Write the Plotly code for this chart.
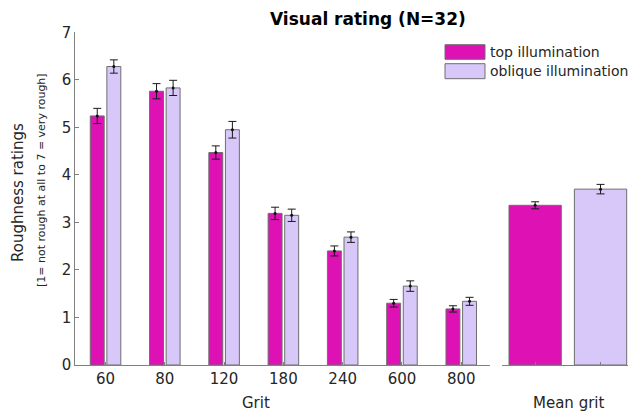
import plotly.graph_objects as go

# Roughness ratings per grit, two illumination conditions (mean ± SEM)
grits = ["60", "80", "120", "180", "240", "600", "800"]
top_mean = [5.24, 5.76, 4.47, 3.19, 2.40, 1.30, 1.18]
top_err = [0.16, 0.16, 0.14, 0.13, 0.105, 0.08, 0.066]
oblique_mean = [6.28, 5.83, 4.95, 3.15, 2.69, 1.66, 1.34]
oblique_err = [0.14, 0.16, 0.175, 0.13, 0.11, 0.11, 0.084]

# Average over all grits
grand_labels = ["top", "oblique"]
grand_mean = [3.36, 3.70]
grand_err = [0.074, 0.10]

series_names = ["top illumination", "oblique illumination"]
colors = ["#DD11B4", "#D8C8FA"]
edge = "#6E6E6E"
txt = "#262626"
axis_grey = "#808080"
FONT = "DejaVu Sans"

W, H = 629, 412
bar_w = 0.235
shift = 0.14

fig = go.Figure()

pos = list(range(len(grits)))
for k, (means, errs) in enumerate([(top_mean, top_err), (oblique_mean, oblique_err)]):
    xs = [p + (-shift if k == 0 else shift) for p in pos]
    fig.add_trace(go.Bar(
        x=xs, y=means, width=bar_w, name=series_names[k],
        marker=dict(color=colors[k], line=dict(color=edge, width=1)),
        error_y=dict(type="data", array=errs, color="#1a1a1a", thickness=1, width=4),
        xaxis="x", yaxis="y", showlegend=False,
    ))
    fig.add_trace(go.Scatter(
        x=xs, y=means, mode="markers",
        marker=dict(color="#111111", size=3),
        xaxis="x", yaxis="y", showlegend=False, hoverinfo="skip",
    ))

# Mean-over-grit panel
gpos = [0, 1]
for k in range(2):
    fig.add_trace(go.Bar(
        x=[gpos[k]], y=[grand_mean[k]], width=0.8, name=series_names[k],
        marker=dict(color=colors[k], line=dict(color=edge, width=1)),
        error_y=dict(type="data", array=[grand_err[k]], color="#1a1a1a", thickness=1, width=4),
        xaxis="x2", yaxis="y2", showlegend=False,
    ))
    fig.add_trace(go.Scatter(
        x=[gpos[k]], y=[grand_mean[k]], mode="markers",
        marker=dict(color="#111111", size=3),
        xaxis="x2", yaxis="y2", showlegend=False, hoverinfo="skip",
    ))

ydom = [(H - 365) / H, (H - 32.3) / H]

fig.update_layout(
    width=W, height=H,
    margin=dict(l=0, r=0, t=0, b=0, pad=0, autoexpand=False),
    paper_bgcolor="white", plot_bgcolor="white",
    font=dict(family=FONT, color=txt, size=15),
    barmode="overlay",
    xaxis=dict(
        domain=[75.3 / W, 489.7 / W], range=[-0.51, 6.48], automargin=False,
        tickvals=pos, ticktext=grits, ticks="inside", ticklen=3, tickcolor=axis_grey,
        showline=True, linecolor=axis_grey, linewidth=1, showgrid=False, zeroline=False,
        tickfont=dict(size=15, color=txt), anchor="y",
    ),
    yaxis=dict(
        domain=ydom, range=[0, 7], tickvals=[0, 1, 2, 3, 4, 5, 6, 7], automargin=False,
        ticks="inside", ticklen=4, tickcolor=axis_grey,
        showline=True, linecolor=axis_grey, linewidth=1, showgrid=False, zeroline=False,
        tickfont=dict(size=15, color=txt), anchor="x",
    ),
    xaxis2=dict(
        domain=[502 / W, 628 / W], range=[-0.507, 1.42], automargin=False,
        tickvals=gpos, ticktext=["", ""], ticks="inside", ticklen=3, tickcolor=axis_grey,
        showline=True, linecolor=axis_grey, linewidth=1, showgrid=False, zeroline=False,
        anchor="y2",
    ),
    yaxis2=dict(
        domain=ydom, range=[0, 7], visible=False, anchor="x2", automargin=False,
    ),
)

annotations = [
    dict(text="<b>Visual rating (N=32)</b>", x=368 / W, y=1 - 19 / H, xref="paper", yref="paper",
         showarrow=False, font=dict(size=17, color="#000000"), xanchor="center", yanchor="middle"),
    dict(text="Grit", x=256 / W, y=1 - 403 / H, xref="paper", yref="paper",
         showarrow=False, font=dict(size=15, color=txt), xanchor="center", yanchor="middle"),
    dict(text="Mean grit", x=568 / W, y=1 - 403 / H, xref="paper", yref="paper",
         showarrow=False, font=dict(size=15, color=txt), xanchor="center", yanchor="middle"),
    dict(text="Roughness ratings", x=18 / W, y=1 - 193 / H, xref="paper", yref="paper",
         showarrow=False, textangle=-90, font=dict(size=15, color=txt),
         xanchor="center", yanchor="middle"),
    dict(text="[1= not rough at all to 7 = very rough]", x=41 / W, y=1 - 180 / H,
         xref="paper", yref="paper", showarrow=False, textangle=-90,
         font=dict(size=11, color=txt), xanchor="center", yanchor="middle"),
]

# Legend drawn as swatches with labels
shapes = []
legend_rows = [(44.7, 59.3), (63.7, 78.7)]
for k, (y0, y1) in enumerate(legend_rows):
    shapes.append(dict(type="rect", xref="paper", yref="paper",
                       x0=445 / W, x1=485 / W, y0=1 - y1 / H, y1=1 - y0 / H,
                       fillcolor=colors[k], line=dict(color=edge, width=1)))
    annotations.append(dict(text=series_names[k], x=488 / W, y=1 - (y0 + y1) / 2 / H,
                            xref="paper", yref="paper", showarrow=False,
                            font=dict(size=14, color=txt), xanchor="left", yanchor="middle"))

fig.update_layout(annotations=annotations, shapes=shapes)

fig.write_html("out.html")
